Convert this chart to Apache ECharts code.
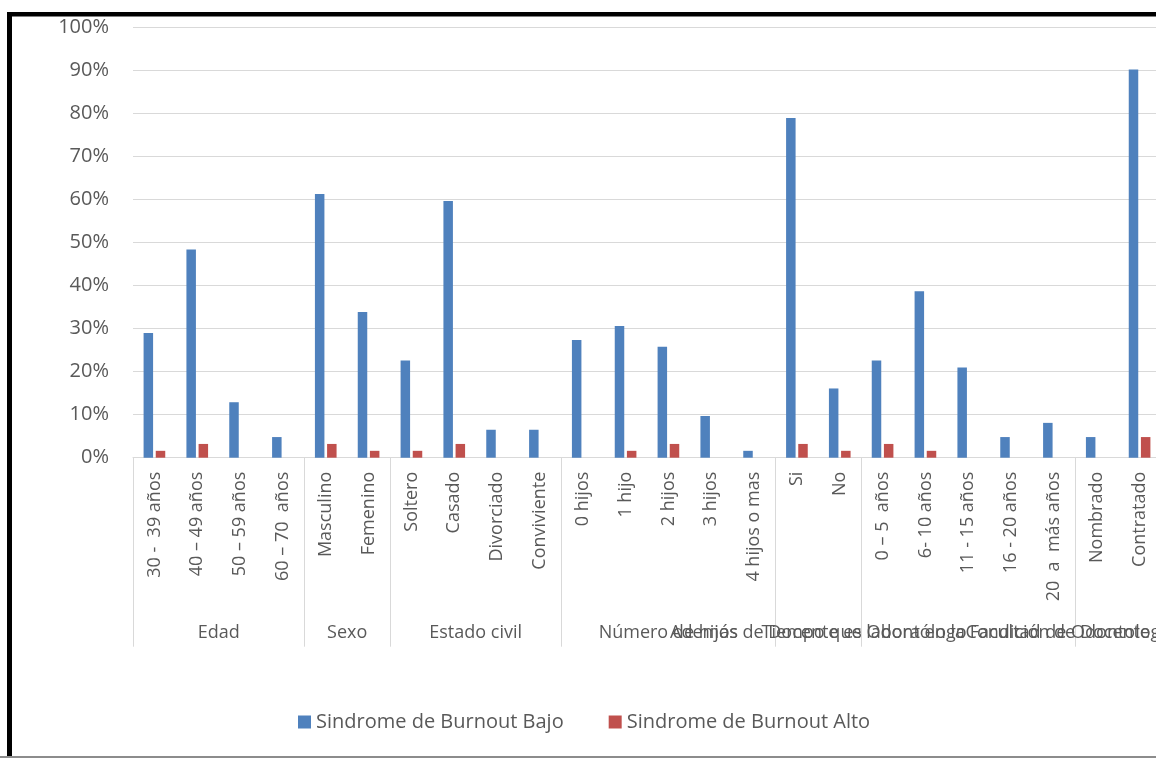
<!DOCTYPE html>
<html>
<head>
<meta charset="utf-8">
<script src="https://cdn.jsdelivr.net/npm/echarts@6/dist/echarts.min.js"></script>
<style>
  html, body { margin: 0; padding: 0; overflow: hidden; background: #ffffff; }
  #chart { width: 1170px; height: 758px; }
</style>
</head>
<body>
<div id="chart"></div>
<script>
// Category labels (first level of the x axis)
const categories = [
  '30 -  39 años', '40 – 49 años', '50 – 59 años', '60 – 70  años',
  'Masculino', 'Femenino',
  'Soltero', 'Casado', 'Divorciado', 'Conviviente',
  '0 hijos', '1 hijo', '2 hijos', '3 hijos', '4 hijos o mas',
  'Si', 'No',
  '0 – 5  años', '6- 10 años', '11 - 15 años', '16 - 20 años', '20  a  más años',
  'Nombrado', 'Contratado'
];

// Group labels (second level of the x axis) and how many categories each covers
const groupNames = [
  'Edad',
  'Sexo',
  'Estado civil',
  'Número de hijos',
  'Además de Docente es Odontólogo',
  'Tiempo que labora en la Facultad de Odontología',
  'Condición de Docente en la Facultad'
];
const groupSizes = [4, 2, 4, 5, 2, 5, 2];

// Share of teachers in each category
const bajo = [
  0.290, 0.484, 0.129, 0.048,
  0.613, 0.339,
  0.226, 0.597, 0.065, 0.065,
  0.274, 0.306, 0.258, 0.097, 0.016,
  0.790, 0.161,
  0.226, 0.387, 0.210, 0.048, 0.081,
  0.048, 0.903
];
const alto = [
  0.016, 0.032, 0, 0,
  0.032, 0.016,
  0.016, 0.032, 0, 0,
  0, 0.016, 0.032, 0, 0,
  0.032, 0.016,
  0.032, 0.016, 0, 0, 0,
  0, 0.048
];

const seriesNames = ['Sindrome de Burnout Bajo', 'Sindrome de Burnout Alto'];

// Where each group starts (index of its first category)
const groupStarts = [];
let acc = 0;
groupSizes.forEach(function (s) { groupStarts.push(acc); acc += s; });

// Half-category slots: a group's center sits on slot 2*start + size
const halfSlots = new Array(categories.length * 2 + 1).fill('');
groupSizes.forEach(function (s, i) { halfSlots[groupStarts[i] * 2 + s] = groupNames[i]; });
const halfSlotKeys = halfSlots.map(function (_, i) { return 's' + i; });

const FONT = '"Open Sans", "Noto Sans", sans-serif';
const TEXT = '#595959';
const GRID_LINE = '#d9d9d9';

const chart = echarts.init(document.getElementById('chart'), null, { renderer: 'canvas' });

chart.setOption({
  animation: false,
  backgroundColor: '#ffffff',
  textStyle: { fontFamily: FONT },
  grid: {
    left: 133, right: 9, top: 27.7, bottom: 300.3,
    containLabel: false,
    outerBoundsMode: 'none'
  },
  legend: {
    left: 293,
    top: 707,
    icon: 'rect',
    itemWidth: 13,
    itemHeight: 13,
    itemGap: 45,
    data: seriesNames,
    textStyle: { fontFamily: FONT, fontSize: 20, color: TEXT }
  },
  xAxis: [
    {
      type: 'category',
      data: categories,
      boundaryGap: true,
      axisLine: { show: true, lineStyle: { color: GRID_LINE, width: 1 } },
      axisTick: {
        show: true,
        length: 189,
        lineStyle: { color: GRID_LINE, width: 1 },
        interval: function (idx) { return groupStarts.indexOf(idx) !== -1; }
      },
      axisLabel: {
        interval: 0,
        rotate: 90,
        margin: 14,
        fontSize: 18,
        color: TEXT,
        fontFamily: FONT
      },
      splitLine: { show: false }
    },
    {
      type: 'category',
      position: 'bottom',
      offset: 158,
      data: halfSlotKeys,
      boundaryGap: false,
      axisLine: { show: false },
      axisTick: { show: false },
      axisLabel: {
        interval: 0,
        margin: 8,
        fontSize: 18,
        color: TEXT,
        fontFamily: FONT,
        formatter: function (v, idx) { return halfSlots[idx]; }
      },
      splitLine: { show: false }
    }
  ],
  yAxis: {
    type: 'value',
    min: 0,
    max: 1,
    interval: 0.1,
    axisLine: { show: false },
    axisTick: { show: false },
    axisLabel: {
      margin: 24,
      fontSize: 20,
      color: TEXT,
      fontFamily: FONT,
      formatter: function (v) { return Math.round(v * 100) + '%'; }
    },
    splitLine: { show: true, lineStyle: { color: GRID_LINE, width: 1 } }
  },
  series: [
    {
      name: seriesNames[0],
      type: 'bar',
      xAxisIndex: 0,
      data: bajo,
      barWidth: 9.5,
      barGap: '28%',
      itemStyle: { color: '#4f81bd' }
    },
    {
      name: seriesNames[1],
      type: 'bar',
      xAxisIndex: 0,
      data: alto,
      barWidth: 9.5,
      barGap: '28%',
      itemStyle: { color: '#c0504d' }
    }
  ],
  graphic: [
    // black frame on the left and top
    { type: 'rect', silent: true, shape: { x: 7, y: 12, width: 5, height: 746 }, style: { fill: '#000000' } },
    { type: 'rect', silent: true, shape: { x: 7, y: 12, width: 1163, height: 4.5 }, style: { fill: '#000000' } },
    // thin grey rule along the bottom edge
    { type: 'rect', silent: true, shape: { x: 0, y: 756, width: 1170, height: 2 }, style: { fill: '#8c8c8c' } }
  ]
});
</script>
</body>
</html>
